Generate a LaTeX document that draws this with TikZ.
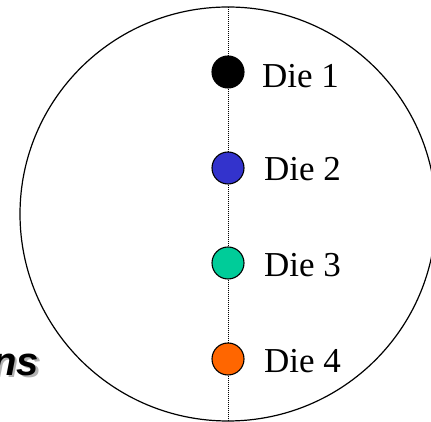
\documentclass[tikz,border=0pt]{standalone}
\usepackage{fontspec}
\setmainfont{Liberation Serif}
\newfontfamily\labelsans{Liberation Sans}
\begin{document}
\begin{tikzpicture}[x=1pt,y=1pt,
  die/.style={circle, draw=black, line width=1.1pt, minimum size=32pt, inner sep=0pt},
  dielabel/.style={anchor=base west, inner sep=0pt, font=\fontsize{35}{40}\selectfont},
  axis/.style={line width=0.9pt, dash pattern=on 1pt off 1pt},
  title/.style={anchor=base east, inner sep=0pt, font=\labelsans\bfseries\itshape\fontsize{40}{44}\selectfont}]
\useasboundingbox (0,0) rectangle (431,422);
\clip (0,0) rectangle (431,422);

% wafer outline
\draw[line width=1.2pt] (228,208) ellipse [x radius=208, y radius=207];

% dies along the vertical axis
\coordinate (top) at (228,415);
\coordinate (bottom) at (228,0);
\node[die, fill=black]          (d1) at (228,350) {};
\node[die, fill={rgb,255:red,51;green,51;blue,204}]  (d2) at (228,254) {};
\node[die, fill={rgb,255:red,0;green,204;blue,153}]  (d3) at (228,159) {};
\node[die, fill={rgb,255:red,255;green,102;blue,0}]  (d4) at (228,63) {};

\draw[axis] (top) -- (d1);
\draw[axis] (d1) -- (d2);
\draw[axis] (d2) -- (d3);
\draw[axis] (d3) -- (d4);
\draw[axis] (d4) -- (bottom);

% die labels
\node[dielabel] (l1) at (262,334) {Die 1};
\node[dielabel] (l2) at (264,241) {Die 2};
\node[dielabel] (l3) at (264,145) {Die 3};
\node[dielabel] (l4) at (264,49) {Die 4};

% partial heading with drop shadow
\node[title, text=black!30] (tshadow) at (41.5,44) {ns};
\node[title] (t) at (39,46) {ns};
\end{tikzpicture}
\end{document}
